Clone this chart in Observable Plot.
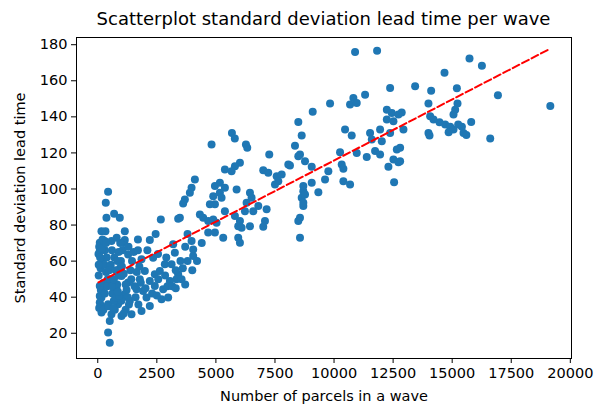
<!DOCTYPE html>
<html>
<head>
<meta charset="utf-8">
<script src="https://cdn.jsdelivr.net/npm/d3@7"></script>
<script src="https://cdn.jsdelivr.net/npm/@observablehq/plot@0.6"></script>
<style>
  html, body { margin: 0; padding: 0; background: #fff; }
  #title { height: 30px; width: 603px; box-sizing: border-box; padding-left: 76px; padding-right: 32px;
    font-family: "DejaVu Sans", sans-serif; font-size: 18px; color: #000; text-align: center; line-height: 18px; padding-top: 10px; white-space: nowrap; }
  #chart svg { display: block; }
</style>
</head>
<body>
<div id="title">Scatterplot standard deviation lead time per wave</div>
<div id="chart"></div>
<script>
const titleText = "Scatterplot standard deviation lead time per wave";
const xLabel = "Number of parcels in a wave";
const yLabel = "Standard deviation lead time";
const xTicks = [0, 2500, 5000, 7500, 10000, 12500, 15000, 17500, 20000];
const yTicks = [20, 40, 60, 80, 100, 120, 140, 160, 180];

// Number of parcels per wave
const parcels = [
  15733,16258,14675,13432,14110,15199,16936,19153,13996,15225,15127,15056,14068,14209,14463,14703,14915,15056,15411,15805,15480,13996,14040,16610,12937,12864,12797,12797,15254,14850,15600,
  12373,11314,10818,10678,10960,9831,9097,8488,12234,12444,12725,12234,12514,10466,10748,11525,11949,11597,12021,12373,8631,8347,10254,10960,11384,11737,11949,12657,12514,12725,12301,8559,8771,9055,8135,10325,10395,9759,9619,10395,10678,9055,8700,9336,8631,8700,8559,12542,10890,11822,
  4816,6271,6327,7258,8487,8064,6017,5805,5381,5664,7004,7216,7572,7784,7640,7500,4110,3970,3898,3686,3614,4958,5169,5381,5169,4887,5240,5876,6441,6511,6299,6794,7147,6581,6229,4958,4746,5381,5805,6017,5945,6441,6088,7076,7004,3475,4322,4462,4674,4887,5028,4674,4958,5309,5945,6017,8487,8559,3970,4038,4038,3191,8700,8771,8700,5678,5800,
  437,339,367,692,932,325,1144,297,1144,2203,2669,3403,
  580,85,225,1284,1852,2343,3263,2839,3123,1992,2415,2627,3403,3331,1004,1284,157,792,1640,1919,2415,2767,2979,2699,2203,1852,1428,1004,580,157,85,157,437,860,508,437,508,1356,1144,2062,1780,2203,3051,3547,
  157,85,85,85,157,
  30,60,200,120,40,250,130,300,60,240,300,380,280,350,420,400,620,680,460,720,650,760,820,880,940,980,1050,1100,600,700,550,480,520,600,680,760,830,880,950,1020,1100,1180,1220,1270,1320,1180,1100,1000,900,850,1380,1450,1520,1420,1560,1600,1720,1650,1760,1820,2020,2300,2500,2560,2850,2950,3150,3300,3600,3800,40,100,180,350,800,1300,1700,2100,2550,2900,3500,3700,4000,4200,4400,3300,3800,3700,2450,1700
];
// Standard deviation of lead time per wave
const stdLeadTime = [
  172.3,168.4,164.4,157,154.5,155.8,152,146,147.4,147.4,144,141.3,140.3,138.5,137,135.7,134.5,133,134.5,137.2,131,131,129.6,128,133,142.4,122.8,115.4,135.7,131.5,130,
  156,152.3,150.5,146.8,147.7,147.4,142.8,137.2,144,142.2,141.3,138.5,137.6,133,129.6,131.1,133,127.4,126.5,131.1,129.6,124,120.4,120,117.8,121,119.1,121.9,116.3,114.8,112.3,119.1,115.4,112.3,113,113.6,111.2,109.9,105.3,104.3,102.5,103.4,98.8,98.2,95.1,90.5,84.1,103.8,176,176.7,
  124.7,124.7,122.8,119.1,118.2,113.6,114.6,112.6,110.8,109.9,110.4,109,107.1,108,104.3,102.5,105.3,100.7,97.9,94.2,92,101.6,103.4,100.7,97.9,96,95.1,99.7,97.9,95.1,92.4,90.5,88.7,87.7,87.7,91.5,91.5,87.7,85,82.2,79.4,79.4,78.5,82.2,79.1,84.1,85.9,84.1,82.2,83.1,81.3,75.8,75.8,73,73,70.2,82.2,73,71.1,66.5,62.8,69.3,101.6,97,92.4,131,128,
  98.5,92.4,84.1,86.3,84.1,76.6,76.6,71.1,71.7,71.7,83.1,83.5,
  71.1,65.6,61,63.7,61,61.9,64.7,58.2,58.2,54.5,52.7,54.5,52.7,49.9,51.7,48.1,44.4,45.3,44.4,43.4,46.2,44.4,39.8,38.8,35.1,32.3,30.5,29.6,30.5,31.5,37,39.8,36.1,36.1,26.8,20.4,14.8,37.9,41.6,39.8,49.9,49,49,49.9,
  76.6,70.2,46.2,40.7,35.1,
  64,68,72,56,52,48,44,42,34,33,66,62,58,54,50,46,42,38,35,33,34,40,47,52,56,60,66,70,66,62,58,55,50,46,50,55,60,65,70,57,53,47,44,40,36,33,31,38,41,43,55,60,65,50,46,40,36,54,57,48,45,42,41,50,52,46,46,55,56,60,58,62,67,70,73,68,66,66,64,62,60,47,55,60,70,45,75,68,75,72
];

// Fitted regression line
const fitParcels = [30, 19150];
const fitLeadTime = [48.2, 177.8];

const points = parcels.map((p, i) => ({x: p, y: stdLeadTime[i]}));
const fit = fitParcels.map((p, i) => ({x: p, y: fitLeadTime[i]}));

const fmt = d3.format("d");
const chart = Plot.plot({
  width: 603,
  height: 377,
  marginTop: 7,
  marginRight: 32,
  marginBottom: 49,
  marginLeft: 76,
  style: {fontFamily: "DejaVu Sans, sans-serif", fontSize: "14.5px", color: "#000", background: "#fff", overflow: "visible"},
  x: {domain: [-900, 20050]},
  y: {domain: [6, 184]},
  marks: [
    Plot.dot(points, {x: "x", y: "y", r: 4, fill: "#1f77b4", stroke: null}),
    Plot.line(fit, {x: "x", y: "y", stroke: "red", strokeWidth: 2, strokeDasharray: "7.4,3.2"}),
    Plot.frame({stroke: "#000", strokeWidth: 1}),
    Plot.axisX({ticks: xTicks, tickFormat: fmt, tickSize: 5, tickPadding: 4, label: xLabel, labelAnchor: "center", labelOffset: 42, labelArrow: "none"}),
    Plot.axisY({ticks: yTicks, tickFormat: fmt, tickSize: 5, tickPadding: 4, label: yLabel, labelAnchor: "center", labelOffset: 62, labelArrow: "none"})
  ]
});
document.getElementById("chart").appendChild(chart);
</script>
</body>
</html>
